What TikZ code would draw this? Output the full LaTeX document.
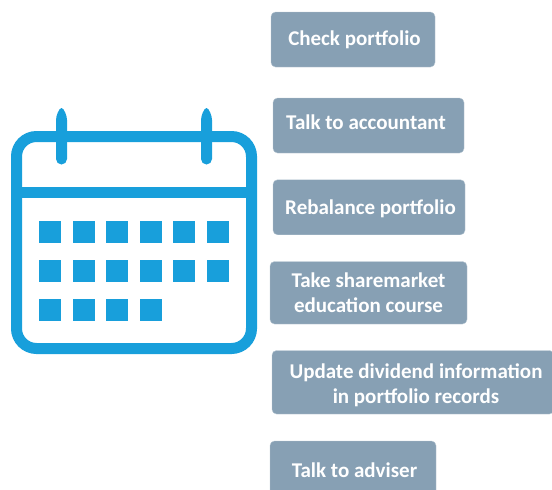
\documentclass[tikz,border=0pt]{standalone}
\usepackage{fontspec}
\setmainfont{Carlito}
\definecolor{calblue}{HTML}{189FDB}
\definecolor{boxgrey}{HTML}{87A0B4}
\tikzset{
  calline/.style={draw=calblue,line width=11pt},
  daycell/.style={fill=calblue},
  ringshape/.style={fill=calblue},
  taskbox/.style={rectangle,rounded corners=4.5pt,fill=boxgrey,draw=boxgrey!60!white,line width=0.4pt,inner sep=0pt,
    text=white,align=center,font=\fontsize{21}{25.5}\selectfont\bfseries,anchor=center}
}
\begin{document}
\begin{tikzpicture}[x=1pt,y=-1pt]
\useasboundingbox (0,0) rectangle (552,490);
% frame
\draw[calline,rounded corners=20pt] (16.5,136.5) rectangle (251.5,348.5);
\draw[calline] (16.5,192.5) -- (251.5,192.5);
% rings
\foreach \rx in {61.5,206.5}{
  \fill[ringshape] (\rx-5.5,120) .. controls (\rx-5.5,116) and (\rx-2.5,108) .. (\rx,108)
     .. controls (\rx+2.5,108) and (\rx+5.5,116) .. (\rx+5.5,120)
     -- (\rx+5.5,159) arc[start angle=0,end angle=180,radius=5.5] -- cycle;
}
% day cells
\foreach \cy/\n in {220.5/6,260/6,299/4}{
  \foreach \i in {1,...,\n}{
    \fill[daycell] ({39.3+(\i-1)*33.5},\cy) rectangle ++(22,22);
  }
}
% task boxes
\node[taskbox,minimum width=164pt,minimum height=55pt] (a) at (353,39.5) {\hspace*{3pt}\rule{0pt}{15pt}Check portfolio};
\node[taskbox,minimum width=191pt,minimum height=55pt] (b) at (368.5,125.5) {\rule[-6pt]{0pt}{0pt}Talk to accountant\hspace*{5pt}};
\node[taskbox,minimum width=192pt,minimum height=55pt] (c) at (369,207.25) {\hspace*{3pt}\rule{0pt}{17pt}Rebalance portfolio};
\node[taskbox,minimum width=197pt,minimum height=62.5pt] (d) at (368.5,292.75) {Take sharemarket\\education course};
\node[taskbox,minimum width=282pt,minimum height=63.5pt] (e) at (413,382.25) {\hspace*{6pt}\rule{0pt}{21pt}Update dividend information\\\hspace*{6pt}in portfolio records};
\begin{scope}
\clip (0,0) rectangle (552,490);
\node[taskbox,minimum width=166pt,minimum height=60pt] (f) at (353,471) {\hspace*{3pt}\rule[-2pt]{0pt}{0pt}Talk to adviser};
\end{scope}
\end{tikzpicture}
\end{document}
